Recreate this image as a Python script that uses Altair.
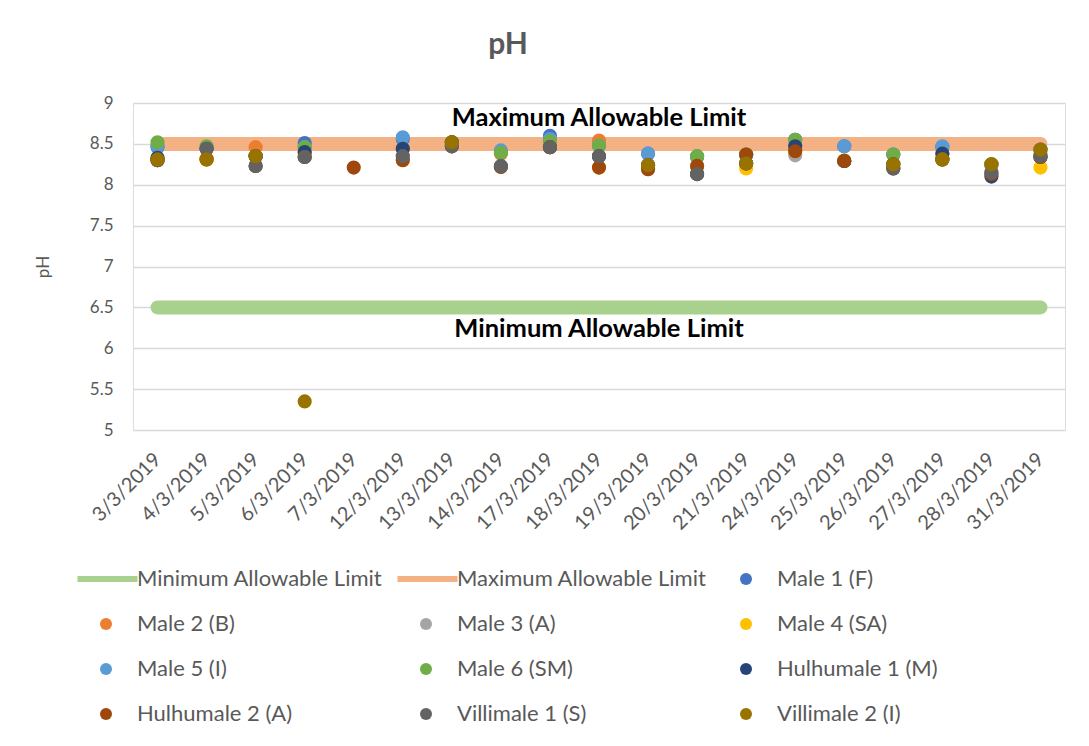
import altair as alt
import pandas as pd

dates = ["3/3/2019", "4/3/2019", "5/3/2019", "6/3/2019", "7/3/2019", "12/3/2019",
         "13/3/2019", "14/3/2019", "17/3/2019", "18/3/2019", "19/3/2019", "20/3/2019",
         "21/3/2019", "24/3/2019", "25/3/2019", "26/3/2019", "27/3/2019", "28/3/2019",
         "31/3/2019"]

series_names = ["Male 1 (F)", "Male 2 (B)", "Male 3 (A)", "Male 4 (SA)", "Male 5 (I)",
                "Male 6 (SM)", "Hulhumale 1 (M)", "Hulhumale 2 (A)", "Villimale 1 (S)",
                "Villimale 2 (I)"]
series_colors = ["#4472C4", "#ED7D31", "#A5A5A5", "#FFC000", "#5B9BD5",
                 "#70AD47", "#264478", "#9E480E", "#636363", "#997300"]

male1 = [8.46, 8.44, 8.35, 8.51, None, 8.56, 8.50, 8.40, 8.60, 8.48, 8.38, 8.34, 8.36, 8.55, 8.47, 8.37, 8.46, 8.24, 8.43]
male2 = [8.32, 8.32, 8.46, 8.40, None, 8.44, 8.52, 8.38, 8.53, 8.54, 8.24, 8.23, 8.37, 8.42, 8.29, 8.25, 8.31, 8.25, 8.43]
male3 = [8.30, 8.44, 8.23, 8.34, None, 8.35, 8.47, 8.22, 8.46, 8.35, 8.19, 8.13, 8.26, 8.36, 8.29, 8.20, 8.31, 8.15, 8.34]
male4 = [8.30, 8.31, 8.35, 8.36, None, 8.30, 8.52, 8.22, 8.46, 8.21, 8.20, 8.23, 8.20, 8.41, 8.30, 8.25, 8.31, 8.25, 8.21]
male5 = [8.47, 8.45, 8.35, 8.46, None, 8.58, 8.51, 8.42, 8.56, 8.48, 8.38, 8.35, 8.37, 8.55, 8.47, 8.37, 8.47, 8.25, 8.43]
male6 = [8.52, 8.47, 8.35, 8.46, None, 8.44, 8.52, 8.39, 8.53, 8.48, 8.24, 8.35, 8.37, 8.55, 8.29, 8.37, 8.38, 8.25, 8.38]
hulhumale1 = [8.33, 8.44, 8.35, 8.40, None, 8.44, 8.52, 8.22, 8.46, 8.35, 8.24, 8.13, 8.26, 8.47, 8.29, 8.25, 8.38, 8.10, 8.34]
hulhumale2 = [8.30, 8.31, 8.23, 8.34, 8.21, 8.30, 8.47, 8.22, 8.46, 8.21, 8.19, 8.23, 8.37, 8.41, 8.29, 8.20, 8.31, 8.13, 8.34]
villimale1 = [8.30, 8.44, 8.23, 8.34, None, 8.35, 8.47, 8.23, 8.46, 8.35, 8.24, 8.13, 8.26, None, None, 8.20, 8.31, 8.15, 8.35]
villimale2 = [8.31, 8.31, 8.35, 5.35, None, None, 8.52, None, None, None, 8.24, None, 8.26, None, None, 8.25, 8.31, 8.25, 8.43]

series_values = [male1, male2, male3, male4, male5, male6,
                 hulhumale1, hulhumale2, villimale1, villimale2]

min_limit = 6.5
max_limit = 8.5
min_name = "Minimum Allowable Limit"
max_name = "Maximum Allowable Limit"
min_color = "#A9D18E"
max_color = "#F4B183"
label_date = "18/3/2019"

FONT = "Lato"
GREY = "#595959"

rows = []
for si, (name, vals) in enumerate(zip(series_names, series_values)):
    for d, v in zip(dates, vals):
        if v is not None:
            rows.append({"Date": d, "pH": v, "Series": name, "order": si})
points_df = pd.DataFrame(rows)

limits_df = pd.DataFrame(
    [{"Date": d, "pH": min_limit, "Limit": min_name} for d in dates]
    + [{"Date": d, "pH": max_limit, "Limit": max_name} for d in dates]
)
label_min_df = pd.DataFrame([{"Date": label_date, "pH": min_limit, "text": min_name}])
label_max_df = pd.DataFrame([{"Date": label_date, "pH": max_limit, "text": max_name}])

# legend entries in reading order (3 per row); the legend grid fills column by column
all_names = [min_name, max_name] + series_names
all_colors = [min_color, max_color] + series_colors
line_path = "M-4.75,-0.5H5.25V0.5H-4.75Z"
all_shapes = [line_path, line_path] + ["circle"] * len(series_names)
ncols, nrows = 3, 4
col_major = [r * ncols + c for c in range(ncols) for r in range(nrows)]
legend_domain = [all_names[i] for i in col_major]
legend_colors = [all_colors[i] for i in col_major]
legend_shapes = [all_shapes[i] for i in col_major]

x_enc = alt.X(
    "Date:N",
    sort=dates,
    scale=alt.Scale(type="point", domain=dates, padding=0.5),
    axis=alt.Axis(
        title=None, labelAngle=-45, labelAlign="right", labelBaseline="middle",
        labelFontSize=20, labelColor=GREY, labelFont=FONT, labelPadding=26,
        ticks=False, domain=False, grid=False,
    ),
)
y_scale = alt.Scale(domain=[5, 9], nice=False, zero=False)
y_axis = alt.Axis(
    title="pH", titleFontSize=17, titleColor=GREY, titleFont=FONT,
    titleFontWeight="normal", titlePadding=37,
    values=[5, 5.5, 6, 6.5, 7, 7.5, 8, 8.5, 9], format="~g",
    labelFontSize=17, labelColor=GREY, labelFont=FONT, labelPadding=20,
    ticks=False, domain=False, grid=True, gridColor="#D9D9D9", gridWidth=1.3,
)

legend_kw = dict(
    title=None, orient="none", legendX=-58, legendY=465, columns=ncols,
    gridAlign="all", columnPadding=8, rowPadding=23, padding=0,
    symbolSize=144, symbolOffset=20, labelOffset=20,
    labelFontSize=22, labelFont=FONT, labelColor=GREY, labelLimit=400,
    symbolStrokeWidth=0,
)

base_limits = alt.Chart(limits_df)
min_line = base_limits.transform_filter(alt.datum.Limit == min_name).mark_line(
    strokeWidth=14, strokeCap="round", color=min_color
).encode(x=x_enc, y=alt.Y("pH:Q", scale=y_scale, axis=y_axis))
max_line = base_limits.transform_filter(alt.datum.Limit == max_name).mark_line(
    strokeWidth=14, strokeCap="round", color=max_color
).encode(x=x_enc, y=alt.Y("pH:Q", scale=y_scale))

pts = alt.Chart(points_df).mark_point(filled=True, size=200, opacity=1).encode(
    x=x_enc,
    y=alt.Y("pH:Q", scale=y_scale),
    color=alt.Color(
        "Series:N",
        scale=alt.Scale(domain=legend_domain, range=legend_colors),
        legend=alt.Legend(**legend_kw),
    ),
    shape=alt.Shape(
        "Series:N",
        scale=alt.Scale(domain=legend_domain, range=legend_shapes),
        legend=alt.Legend(**legend_kw),
    ),
    order=alt.Order("order:Q"),
)

txt_min = alt.Chart(label_min_df).mark_text(
    font=FONT, fontSize=25.5, fontWeight="bold", color="#000000", dy=22
).encode(x=x_enc, y=alt.Y("pH:Q", scale=y_scale), text="text:N")
txt_max = alt.Chart(label_max_df).mark_text(
    font=FONT, fontSize=25.5, fontWeight="bold", color="#000000", dy=-26
).encode(x=x_enc, y=alt.Y("pH:Q", scale=y_scale), text="text:N")

chart = alt.layer(min_line, max_line, pts, txt_min, txt_max).properties(
    width=932, height=327,
    title=alt.TitleParams(
        "pH", font=FONT, fontSize=30, fontWeight="bold", color=GREY,
        anchor="middle", dx=-91, offset=34,
    ),
    autosize=alt.AutoSizeParams(type="none"),
    padding={"left": 125, "top": 95, "right": 10, "bottom": 300},
).configure_view(stroke=None).configure(background="white")

chart.save("out.html", embed_options={"renderer": "svg", "actions": False})
